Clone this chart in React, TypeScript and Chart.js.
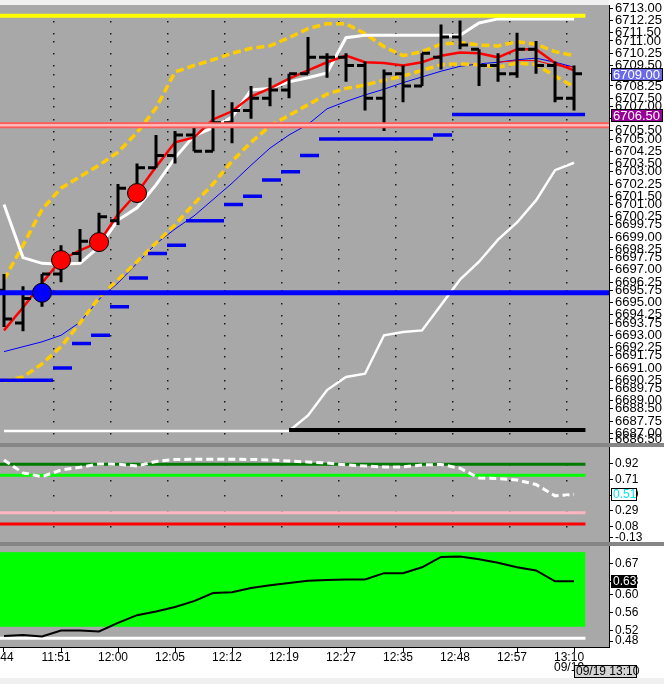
import React, { useEffect, useRef } from "react";
import { Chart, registerables } from "chart.js";

Chart.register(...registerables);

// ---------------- categories / x labels ----------------
const TIME_LABELS = ["11:44", "11:51", "12:00", "12:05", "12:12", "12:19", "12:27", "12:35", "12:48", "12:57", "13:10"];
const LABEL_EVERY = 3;
const LAST_DATE = "09/19";
const LAST_STAMP = "09/19 13:10";

// ---------------- price bars (OHLC) ----------------
const OPEN = [6695.75, 6693.75, 6695.5, 6696.75, 6698.0, 6698.5, 6700.0, 6702.0, 6703.25, 6704.0, 6705.25, 6704.25, 6706.0, 6706.75, 6707.5, 6708.0, 6709.0, 6710.0, 6710.0, 6709.5, 6707.5, 6709.0, 6708.25, 6710.0, 6711.25, 6710.5, 6709.5, 6709.0, 6710.5, 6709.5, 6707.5];
const HIGH = [6696.75, 6696.0, 6696.75, 6698.5, 6699.5, 6700.5, 6702.25, 6703.5, 6705.25, 6705.5, 6706.0, 6708.0, 6707.25, 6708.25, 6708.75, 6709.0, 6711.25, 6710.25, 6710.25, 6709.75, 6709.25, 6709.5, 6710.25, 6712.0, 6712.25, 6710.5, 6710.25, 6711.5, 6711.0, 6709.75, 6709.5];
const LOW = [6693.5, 6693.25, 6694.75, 6696.25, 6697.5, 6698.25, 6699.75, 6701.25, 6703.25, 6703.5, 6704.25, 6704.25, 6704.75, 6706.25, 6707.0, 6707.5, 6709.0, 6708.75, 6708.5, 6706.75, 6705.5, 6707.25, 6708.25, 6709.25, 6710.5, 6708.25, 6708.5, 6708.75, 6709.0, 6707.25, 6706.75];
const CLOSE = [6694.0, 6695.25, 6696.75, 6697.5, 6698.75, 6700.25, 6702.0, 6703.25, 6704.0, 6705.25, 6704.25, 6706.0, 6706.75, 6707.5, 6708.0, 6709.0, 6710.0, 6710.0, 6709.5, 6707.5, 6709.0, 6708.25, 6710.25, 6711.25, 6710.75, 6709.5, 6709.0, 6710.5, 6709.5, 6707.5, 6709.0];

// ---------------- price-panel indicators ----------------
const FAST_MA = [6693.3, 6694.7, 6696.2, 6697.6, 6698.2, 6698.7, 6700.4, 6701.7, 6703.3, 6704.8, 6705.1, 6706.2, 6706.7, 6707.6, 6708.1, 6708.7, 6709.2, 6709.7, 6710.1, 6709.7, 6709.65, 6709.5, 6709.7, 6710.1, 6710.3, 6710.25, 6710.0, 6710.5, 6710.5, 6709.65, 6709.2];
const FAST_MA_ALT_FROM = 26;
const FAST_MA_ALT = [6709.7, 6709.8, 6709.8, 6709.5, 6709.4];
const SLOW_MA = [6692.0, 6692.3, 6692.6, 6693.0, 6693.8, 6695.2, 6696.2, 6697.4, 6698.6, 6699.5, 6700.3, 6701.3, 6702.3, 6703.4, 6704.45, 6705.25, 6705.9, 6706.85, 6707.3, 6707.7, 6708.05, 6708.45, 6708.8, 6709.15, 6709.45, 6709.6, 6709.7, 6709.85, 6709.95, 6709.7, 6709.4];
const BAND_UPPER = [6696.4, 6698.5, 6700.7, 6702.0, 6702.7, 6703.4, 6704.2, 6705.4, 6706.9, 6709.1, 6709.5, 6709.85, 6710.25, 6710.55, 6710.7, 6711.2, 6711.75, 6712.05, 6712.05, 6711.45, 6710.65, 6710.1, 6710.35, 6710.8, 6710.9, 6710.75, 6710.7, 6710.95, 6710.8, 6710.35, 6710.1];
const BAND_LOWER = [6690.2, 6690.45, 6691.25, 6692.3, 6693.75, 6695.3, 6696.4, 6697.5, 6698.65, 6699.75, 6701.05, 6702.25, 6703.65, 6704.8, 6705.8, 6706.45, 6707.1, 6707.75, 6708.1, 6708.3, 6708.6, 6708.85, 6709.2, 6709.55, 6709.6, 6709.55, 6709.4, 6709.65, 6709.55, 6708.85, 6708.2];
const TRAIL_UPPER = [6701.0, 6697.75, 6697.4, 6697.35, 6697.4, 6698.4, 6700.05, 6700.8, 6702.2, 6703.85, 6705.2, 6705.7, 6706.35, 6708.0, 6708.1, 6708.5, 6708.75, 6709.05, 6711.2, 6711.35, 6711.35, 6711.35, 6711.35, 6711.35, 6711.35, 6712.1, 6712.35, 6712.35, 6712.35, 6712.35, 6712.35];
const TRAIL_LOWER = [6687.15, 6687.15, 6687.15, 6687.15, 6687.15, 6687.15, 6687.15, 6687.15, 6687.15, 6687.15, 6687.15, 6687.15, 6687.15, 6687.15, 6687.15, 6687.15, 6688.1, 6689.65, 6690.45, 6690.65, 6693.0, 6693.2, 6693.3, 6694.85, 6696.4, 6697.5, 6698.85, 6699.9, 6701.25, 6703.1, 6703.55];
const STOP_STEPS = [6690.25, 6690.25, 6690.25, 6691.0, 6692.5, 6693.0, 6694.75, 6696.5, 6698.0, 6698.5, 6700.0, 6700.0, 6701.0, 6701.5, 6702.5, 6703.0, 6704.0, 6705.0, 6705.0, 6705.0, 6705.0, 6705.0, 6705.0, 6705.25, 6706.5, 6706.5, 6706.5, 6706.5, 6706.5, 6706.5, 6706.5];
const BUY_SIGNAL_BARS = [3, 5, 7];
const CROSS_SIGNAL_BARS = [2];
const LEVEL_TOP = 6712.55;
const LEVEL_PIVOT = 6705.85;
const LEVEL_BLUE = 6695.6;
const LEVEL_FLOOR = 6687.2;
const FLOOR_FROM_BAR = 15;
const TOP_TICKS = [6713.0, 6712.25, 6711.5, 6711.0, 6710.25, 6709.5, 6709.0, 6708.25, 6707.5, 6707.0, 6706.25, 6705.5, 6705.0, 6704.25, 6703.5, 6703.0, 6702.25, 6701.5, 6701.0, 6700.25, 6699.75, 6699.0, 6698.25, 6697.75, 6697.0, 6696.25, 6695.75, 6695.0, 6694.25, 6693.75, 6693.0, 6692.25, 6691.75, 6691.0, 6690.25, 6689.75, 6689.0, 6688.5, 6687.75, 6687.0, 6686.5];

// ---------------- middle oscillator ----------------
const OSC = [0.974, 0.799, 0.749, 0.839, 0.875, 0.92, 0.916, 0.893, 0.954, 0.981, 0.983, 0.983, 0.983, 0.981, 0.974, 0.96, 0.947, 0.933, 0.907, 0.893, 0.88, 0.88, 0.907, 0.913, 0.862, 0.731, 0.724, 0.704, 0.643, 0.49, 0.51];
const OSC_LEVEL_HIGH = 0.916;
const OSC_LEVEL_UPPER = 0.768;
const OSC_LEVEL_LOWER = 0.263;
const OSC_LEVEL_LOW = 0.11;
const MID_TICKS = [0.92, 0.71, 0.5, 0.29, 0.08, -0.13];

// ---------------- bottom strength ----------------
const STRENGTH = [0.509, 0.511, 0.508, 0.521, 0.521, 0.519, 0.538, 0.555, 0.563, 0.573, 0.586, 0.604, 0.606, 0.615, 0.621, 0.626, 0.631, 0.633, 0.634, 0.634, 0.648, 0.648, 0.661, 0.684, 0.685, 0.679, 0.671, 0.661, 0.654, 0.63, 0.63];
const STRENGTH_ZONE_LOW = 0.5295;
const STRENGTH_ZONE_HIGH = 0.6933;
const STRENGTH_BASE = 0.5038;
const BOT_TICKS = [0.67, 0.63, 0.6, 0.56, 0.52, 0.48];

// ---------------- layout / style ----------------
const W = 664;
const H = 684;
const FONT = "'Liberation Sans', Arial, Helvetica, sans-serif";
const AXIS_W = 55;
const XAXIS_H = 37;
const TOP_PAD = 5;
const PANE_PX = [440, 98.5, 103.5];
const TOP_RANGE = [6686.29, 6713.2];
const MID_RANGE = [-0.153, 1.176];
const BOT_RANGE = [0.4845, 0.7137];
const X_RANGE = [-0.2105, 31.84];
const EDGE_INSET_PX = 6;
const TICK_FRAC = 0.42;
const SLOT_START = -0.42;
const SLOT_END = 0.58;
const PANEL_BG = "#a8a8a8";
const SEPARATOR = "#868686";

const LAST = CLOSE.length - 1;
const LEVEL_END = LAST + 0.6;

const pts = (vals: (number | null)[], from = 0) => vals.map((v, i) => ({ x: from + i, y: v }));
const flat = (v: number, x0: number, x1: number) => [{ x: x0, y: v }, { x: x1, y: v }];

function ohlc() {
  const hl: any[] = [];
  const op: any[] = [];
  const cl: any[] = [];
  for (let i = 0; i <= LAST; i++) {
    hl.push({ x: i, y: LOW[i] }, { x: i, y: HIGH[i] }, { x: i, y: null });
    op.push({ x: i - TICK_FRAC, y: OPEN[i] }, { x: i, y: OPEN[i] }, { x: i, y: null });
    cl.push({ x: i, y: CLOSE[i] }, { x: i + TICK_FRAC, y: CLOSE[i] }, { x: i + TICK_FRAC, y: null });
  }
  return { hl, op, cl };
}

function steps() {
  const out: any[] = [];
  STOP_STEPS.forEach((v, i) => {
    out.push({ x: i + SLOT_START, y: v }, { x: i + SLOT_END, y: v }, { x: i + SLOT_END, y: null });
  });
  return out;
}

function placeTicks(values: number[], range: number[], px: number) {
  const inset = ((range[1] - range[0]) * EDGE_INSET_PX) / px;
  return values.map((v) => ({ value: Math.max(v, range[0] + inset) }));
}

const line = (extra: any) => ({
  type: "line",
  pointRadius: 0,
  pointHoverRadius: 0,
  fill: false,
  tension: 0,
  spanGaps: false,
  ...extra,
});

function valueBox(ctx: CanvasRenderingContext2D, scale: any, value: number, text: string, bg: string, fg: string, w: number, size: number) {
  const y = Math.round(scale.getPixelForValue(value));
  const h = 13;
  const x = Math.round(scale.left) + 2;
  const top = y - Math.floor(h / 2);
  ctx.fillStyle = bg;
  ctx.fillRect(x, top, w, h);
  ctx.strokeStyle = "#000";
  ctx.lineWidth = 1;
  ctx.strokeRect(x + 0.5, top + 0.5, w - 1, h - 1);
  ctx.fillStyle = fg;
  ctx.font = `${size}px ${FONT}`;
  ctx.textAlign = "left";
  ctx.textBaseline = "middle";
  ctx.fillText(text, x + 2, top + h / 2 + 0.5);
}

const decor = {
  id: "decor",
  beforeDraw(chart: any) {
    const { ctx, chartArea: a } = chart;
    ctx.save();
    ctx.fillStyle = "#ffffff";
    ctx.fillRect(0, 0, chart.width, chart.height);
    ctx.fillStyle = "#f0f0f0";
    ctx.fillRect(0, 0, a.right, a.top);
    ctx.fillRect(0, chart.height - 6, chart.width, 6);
    ctx.fillStyle = PANEL_BG;
    ctx.fillRect(a.left, a.top, a.right - a.left, a.bottom - a.top);
    ctx.restore();
  },
  beforeDatasetsDraw(chart: any) {
    const { ctx } = chart;
    const xs = chart.scales.x;
    ctx.save();
    ctx.fillStyle = "#1a1a1a";
    const cols: number[] = [];
    for (let k = 1; k < TIME_LABELS.length; k++) cols.push(xs.getPixelForValue(k * LABEL_EVERY + SLOT_START));
    ["y", "y2"].forEach((id) => {
      const s = chart.scales[id];
      s.ticks.forEach((t: any) => {
        const py = s.getPixelForValue(t.value);
        if (py < s.top + 4 || py > s.bottom - 8) return;
        cols.forEach((cx) => ctx.fillRect(Math.round(cx), Math.round(py), 1.5, 1.5));
      });
    });
    ctx.restore();
  },
  afterDraw(chart: any) {
    const { ctx } = chart;
    ctx.save();
    ctx.fillStyle = SEPARATOR;
    ["y", "y2"].forEach((id) => {
      const b = chart.scales[id].bottom;
      ctx.fillRect(0, Math.round(b) - 2, chart.width, 4);
    });
    valueBox(ctx, chart.scales.y, CLOSE[LAST], CLOSE[LAST].toFixed(2), "#6b6bea", "#ffffff", 52, 13);
    valueBox(ctx, chart.scales.y, STOP_STEPS[LAST], STOP_STEPS[LAST].toFixed(2), "#990099", "#ffffff", 52, 13);
    valueBox(ctx, chart.scales.y2, OSC[LAST], OSC[LAST].toFixed(2), "#ffffff", "#00e8f0", 26, 12);
    valueBox(ctx, chart.scales.y3, STRENGTH[LAST], STRENGTH[LAST].toFixed(2), "#000000", "#ffffff", 26, 12);
    // date stamp under last label
    const xs = chart.scales.x;
    const bx = Math.round(xs.getPixelForValue(LAST));
    const by = Math.round(xs.top) + 18;
    ctx.fillStyle = "#d4d4d4";
    ctx.fillRect(bx, by, 63, 13);
    ctx.strokeStyle = "#000";
    ctx.lineWidth = 1;
    ctx.strokeRect(bx + 0.5, by + 0.5, 62, 12);
    ctx.fillStyle = "#000";
    ctx.font = `12px ${FONT}`;
    ctx.textAlign = "left";
    ctx.textBaseline = "middle";
    ctx.fillText(LAST_STAMP, bx + 2, by + 7);
    ctx.restore();
  },
};

function yAxis(ticks: number[], range: number[], weight: number, size: number) {
  return {
    type: "linear",
    position: "right",
    stack: "panes",
    stackWeight: weight,
    min: range[0],
    max: range[1],
    bounds: "data",
    afterBuildTicks: (s: any) => {
      s.ticks = placeTicks(ticks, range, weight);
    },
    afterFit: (s: any) => {
      s.width = AXIS_W;
      s.paddingTop = 0;
      s.paddingBottom = 0;
    },
    ticks: {
      autoSkip: false,
      padding: 2,
      color: "#000",
      font: { size, family: FONT },
      callback: (_v: any, i: number) => ticks[i].toFixed(2),
    },
    grid: { drawOnChartArea: false, drawTicks: true, tickLength: 4, color: "#000" },
    border: { display: true, color: "#000", width: 1 },
  };
}

export default function App() {
  const ref = useRef<HTMLCanvasElement>(null);

  useEffect(() => {
    if (!ref.current) return;
    const { hl, op, cl } = ohlc();
    const X0 = X_RANGE[0];
    const X1 = X_RANGE[1];

    const datasets: any[] = [
      // ---- price panel ----
      line({ label: "buy", yAxisID: "y", data: BUY_SIGNAL_BARS.map((i) => ({ x: i, y: FAST_MA[i] })), showLine: false, pointRadius: 9.5, pointBackgroundColor: "#ff0000", pointBorderColor: "#000", pointBorderWidth: 1, order: 0 }),
      line({ label: "cross", yAxisID: "y", data: CROSS_SIGNAL_BARS.map((i) => ({ x: i, y: LEVEL_BLUE })), showLine: false, pointRadius: 9.5, pointBackgroundColor: "#0000ff", pointBorderColor: "#000", pointBorderWidth: 1, order: 0 }),
      line({ label: "blue level", yAxisID: "y", data: flat(LEVEL_BLUE, X0, X1), borderColor: "#0000ff", borderWidth: 5, order: 1 }),
      line({ label: "pivot inner", yAxisID: "y", data: flat(LEVEL_PIVOT, X0, X1), borderColor: "#ffb8b8", borderWidth: 2.5, order: 2 }),
      line({ label: "pivot outer", yAxisID: "y", data: flat(LEVEL_PIVOT, X0, X1), borderColor: "#ff5a5a", borderWidth: 6, order: 3 }),
      line({ label: "top level", yAxisID: "y", data: flat(LEVEL_TOP, X0, LEVEL_END), borderColor: "#ffff00", borderWidth: 4, order: 4 }),
      line({ label: "floor", yAxisID: "y", data: flat(LEVEL_FLOOR, FLOOR_FROM_BAR, LEVEL_END), borderColor: "#000000", borderWidth: 4, order: 5 }),
      line({ label: "stops", yAxisID: "y", data: steps(), borderColor: "#0000f0", borderWidth: 3.5, order: 6 }),
      line({ label: "high-low", yAxisID: "y", data: hl, borderColor: "#000", borderWidth: 3, order: 7 }),
      line({ label: "open", yAxisID: "y", data: op, borderColor: "#000", borderWidth: 3, order: 7 }),
      line({ label: "close", yAxisID: "y", data: cl, borderColor: "#000", borderWidth: 3, order: 7 }),
      line({ label: "fast ma", yAxisID: "y", data: pts(FAST_MA), borderColor: "#ff0000", borderWidth: 2.5, order: 8 }),
      line({ label: "fast ma alt", yAxisID: "y", data: pts(FAST_MA_ALT, FAST_MA_ALT_FROM), borderColor: "#ff0000", borderWidth: 1, order: 8 }),
      line({ label: "trail upper", yAxisID: "y", data: pts(TRAIL_UPPER), borderColor: "#ffffff", borderWidth: 3, order: 9 }),
      line({ label: "trail lower", yAxisID: "y", data: pts(TRAIL_LOWER), borderColor: "#ffffff", borderWidth: 2.5, order: 9 }),
      line({ label: "band upper", yAxisID: "y", data: pts(BAND_UPPER), borderColor: "#ffcc00", borderWidth: 3.5, borderDash: [8, 4], order: 10 }),
      line({ label: "band lower", yAxisID: "y", data: pts(BAND_LOWER), borderColor: "#ffcc00", borderWidth: 3.5, borderDash: [8, 4], order: 10 }),
      line({ label: "slow ma", yAxisID: "y", data: pts(SLOW_MA), borderColor: "#0000ff", borderWidth: 1, order: 11 }),
      // ---- oscillator panel ----
      line({ label: "osc", yAxisID: "y2", data: pts(OSC), borderColor: "#ffffff", borderWidth: 3, borderDash: [7, 4], order: 0 }),
      line({ label: "osc high", yAxisID: "y2", data: flat(OSC_LEVEL_HIGH, X0, LEVEL_END), borderColor: "#007a00", borderWidth: 3, order: 1 }),
      line({ label: "osc upper", yAxisID: "y2", data: flat(OSC_LEVEL_UPPER, X0, LEVEL_END), borderColor: "#00ff00", borderWidth: 3, order: 1 }),
      line({ label: "osc lower", yAxisID: "y2", data: flat(OSC_LEVEL_LOWER, X0, LEVEL_END), borderColor: "#ffb6c1", borderWidth: 3, order: 1 }),
      line({ label: "osc low", yAxisID: "y2", data: flat(OSC_LEVEL_LOW, X0, LEVEL_END), borderColor: "#ff0000", borderWidth: 3, order: 1 }),
      // ---- strength panel ----
      line({ label: "strength", yAxisID: "y3", data: pts(STRENGTH), borderColor: "#000000", borderWidth: 2, order: 0 }),
      line({ label: "base", yAxisID: "y3", data: flat(STRENGTH_BASE, X0, LEVEL_END), borderColor: "#ffffff", borderWidth: 3, order: 1 }),
      line({ label: "zone", yAxisID: "y3", data: flat(STRENGTH_ZONE_HIGH, X0, LEVEL_END), borderColor: "#00ff00", borderWidth: 1, backgroundColor: "#00ff00", fill: { value: STRENGTH_ZONE_LOW }, order: 2 }),
    ];

    const chart = new Chart(ref.current, {
      type: "line",
      data: { datasets },
      plugins: [decor],
      options: {
        responsive: false,
        animation: false,
        events: [],
        layout: { autoPadding: false, padding: { top: TOP_PAD, left: 0, right: 0, bottom: 0 } },
        plugins: { legend: { display: false }, tooltip: { enabled: false } },
        scales: {
          x: {
            type: "linear",
            position: "bottom",
            min: X_RANGE[0],
            max: X_RANGE[1],
            bounds: "data",
            afterBuildTicks: (s: any) => {
              s.ticks = TIME_LABELS.map((_, k) => ({ value: k * LABEL_EVERY }));
            },
            afterFit: (s: any) => {
              s.height = XAXIS_H;
              s.paddingLeft = 0;
              s.paddingRight = 0;
            },
            ticks: {
              autoSkip: false,
              maxRotation: 0,
              minRotation: 0,
              padding: 1,
              labelOffset: -5,
              color: "#000",
              font: { size: 12, family: FONT, lineHeight: 0.8 },
              callback: (_v: any, i: number) => (i === TIME_LABELS.length - 1 ? [TIME_LABELS[i], LAST_DATE] : TIME_LABELS[i]),
            },
            grid: { drawOnChartArea: false, drawTicks: true, tickLength: 5, color: "#000" },
            border: { display: true, color: "#000", width: 1 },
          },
          y: yAxis(TOP_TICKS, TOP_RANGE, PANE_PX[0], 13),
          y2: yAxis(MID_TICKS, MID_RANGE, PANE_PX[1], 12),
          y3: yAxis(BOT_TICKS, BOT_RANGE, PANE_PX[2], 12),
        } as any,
      },
    } as any);

    return () => chart.destroy();
  }, []);

  return (
    <div style={{ position: "fixed", left: 0, top: 0, width: W, height: H, background: "#fff" }}>
      <canvas ref={ref} width={W} height={H} style={{ display: "block", width: W, height: H }} />
    </div>
  );
}
